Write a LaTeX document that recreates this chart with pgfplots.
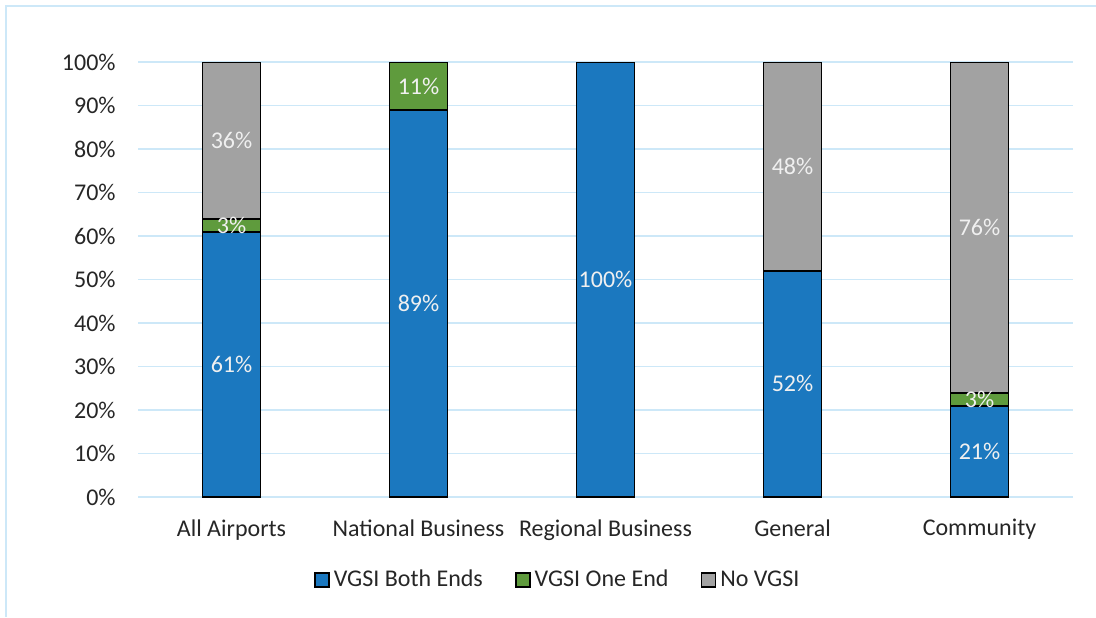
\documentclass[border=0pt]{standalone}
\usepackage{fontspec}
\setmainfont{Carlito}
\usepackage{pgfplots}
\pgfplotsset{compat=1.18}
\usepackage{pgfplotstable}

\definecolor{cblue}{HTML}{1B78BF}
\definecolor{cgreen}{HTML}{5F9B3D}
\definecolor{cgray}{HTML}{A2A2A2}
\definecolor{gridblue}{HTML}{CDE8F8}
\definecolor{txt}{HTML}{262626}

% values in percent per category
\pgfplotstableread{
x both one none
0 61 3 36
1 89 11 0
2 100 0 0
3 52 0 48
4 21 3 76
}\vgsi

\begin{document}
\fontsize{12}{14}\selectfont
\begin{tikzpicture}
\path[use as bounding box] (0,0) rectangle (548pt,308.5pt);
\draw[gridblue, line width=0.8pt] (3pt,0) -- (3pt,305.5pt) -- (548pt,305.5pt);
\begin{axis}[
    at={(69pt,60pt)}, anchor=south west,
    scale only axis,
    width=467.5pt, height=217.5pt,
    ybar stacked,
    bar width=29pt,
    xmin=-0.5, xmax=4.5,
    ymin=0, ymax=100,
    ytick={0,10,...,100},
    yticklabel={\pgfmathprintnumber{\tick}\%},
    xtick={0,1,2,3,4},
    xticklabels={All Airports,National Business,Regional Business,General,Community},
    major tick length=0pt,
    axis line style={draw=none},
    ymajorgrids,
    grid style={gridblue, line width=0.8pt},
    tick label style={font=\fontsize{12}{14}\selectfont, text=txt},
    yticklabel style={xshift=-7pt},
    xticklabel style={yshift=-7pt},
    /pgf/number format/assume math mode=true,
    visualization depends on={rawy \as \rawy},
    nodes near coords={\ifdim\rawy pt>0pt \pgfmathprintnumber[fixed,precision=0]{\rawy}\%\fi},
    every node near coord/.append style={anchor=center,
        text=white!94!black, font=\fontsize{12}{14}\selectfont},
    legend style={at={(0.45,-0.191)}, anchor=center, draw=none,
        legend columns=3, font=\fontsize{12}{14}\selectfont, text=txt,
        /tikz/every even column/.append style={column sep=14pt}},
    legend image code/.code={\draw[#1, draw=black, line width=0.9pt] (0pt,-3.5pt) rectangle (7pt,3.5pt);},
]
\addplot[fill=cblue, draw=black, line width=0.9pt] table[x=x, y=both] {\vgsi};
\addplot[fill=cgreen, draw=black, line width=0.9pt] table[x=x, y=one] {\vgsi};
\addplot[fill=cgray, draw=black, line width=0.9pt] table[x=x, y=none] {\vgsi};
\legend{VGSI Both Ends, VGSI One End, No VGSI}
\end{axis}
\end{tikzpicture}
\end{document}
